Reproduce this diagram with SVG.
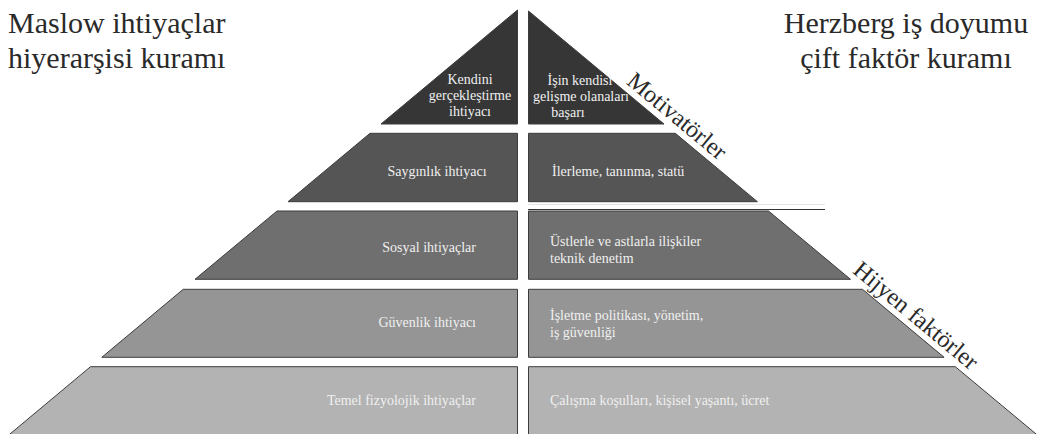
<svg xmlns="http://www.w3.org/2000/svg" width="1041" height="434" viewBox="0 0 1041 434">
<style>
.title{font-family:"Liberation Serif","Times New Roman",serif;font-size:30px;fill:#2a2a2a}
.side{font-family:"Liberation Serif","Times New Roman",serif;font-size:24px;fill:#2a2a2a}
.t{font-family:"Liberation Serif","Times New Roman",serif;font-size:14px;fill:#f0f0f0}
.shape{stroke:#3c3c3c;stroke-width:1}
.r1{fill:#363636}
.r2{fill:#555555}
.r3{fill:#6f6f6f}
.r4{fill:#959595}
.r5{fill:#b3b3b3}
.mid{text-anchor:middle}
.end{text-anchor:end}
</style>
<rect width="1041" height="434" fill="#ffffff"/>
<g id="titles">
<text class="title" x="8" y="33">Maslow ihtiyaçlar</text>
<text class="title" x="8" y="68">hiyerarşisi kuramı</text>
<text class="title mid" x="906" y="33">Herzberg iş doyumu</text>
<text class="title mid" x="906" y="68">çift faktör kuramı</text>
</g>
<g id="connectors">
<line x1="528" y1="204.5" x2="825" y2="204.5" stroke="#e4e4e4" stroke-width="1"/>
<line x1="528" y1="209.5" x2="825" y2="209.5" stroke="#333333" stroke-width="1.2"/>
</g>
<g id="maslow-1">
<polygon class="shape r1" points="517.5,10 517.5,124 381,124"/>
<text class="t mid" x="470" y="84">Kendini</text>
<text class="t mid" x="470" y="100">gerçekleştirme</text>
<text class="t mid" x="470" y="116">ihtiyacı</text>
</g>
<g id="herzberg-1">
<polygon class="shape r1" points="528.5,11 664,124 528.5,124"/>
<text class="t mid" x="580" y="85">İşin kendisi</text>
<text class="t mid" x="581" y="101">gelişme olanaları</text>
<text class="t mid" x="568" y="117">başarı</text>
</g>
<g id="maslow-2">
<polygon class="shape r2" points="370,133.3 517.5,133.3 517.5,201.7 288,201.7"/>
<text class="t mid" x="437" y="176">Saygınlık ihtiyacı</text>
</g>
<g id="herzberg-2">
<polygon class="shape r2" points="528.5,133.3 675.3,133.3 757.4,201.7 528.5,201.7"/>
<text class="t" x="552" y="176">İlerleme, tanınma, statü</text>
</g>
<g id="maslow-3">
<polygon class="shape r3" points="277,211 517.5,211 517.5,279.3 195,279.3"/>
<text class="t end" x="476" y="251.5">Sosyal ihtiyaçlar</text>
</g>
<g id="herzberg-3">
<polygon class="shape r3" points="528.5,211 768.5,211 850.5,279.3 528.5,279.3"/>
<text class="t" x="550" y="245.5">Üstlerle ve astlarla ilişkiler</text>
<text class="t" x="550" y="263">teknik denetim</text>
</g>
<g id="maslow-4">
<polygon class="shape r4" points="183.2,289.3 517.5,289.3 517.5,357.3 101.8,357.3"/>
<text class="t end" x="476" y="326.5">Güvenlik ihtiyacı</text>
</g>
<g id="herzberg-4">
<polygon class="shape r4" points="528.5,289.3 862.5,289.3 944.1,357.3 528.5,357.3"/>
<text class="t" x="550" y="320">İşletme politikası, yönetim,</text>
<text class="t" x="550" y="336.5">iş güvenliği</text>
</g>
<g id="maslow-5">
<polygon class="shape r5" points="90.5,366.7 517.5,366.7 517.5,440 2.8,440"/>
<text class="t end" x="476" y="405">Temel fizyolojik ihtiyaçlar</text>
</g>
<g id="herzberg-5">
<polygon class="shape r5" points="528.5,366.7 955.3,366.7 1043.3,440 528.5,440"/>
<text class="t" x="550" y="405">Çalışma koşulları, kişisel yaşantı, ücret</text>
</g>
<g id="labels">
<text class="side mid" transform="translate(672,122) rotate(39.8)">Motivatörler</text>
<text class="side mid" transform="translate(911,321.5) rotate(39.8)">Hijyen faktörler</text>
</g>
</svg>
